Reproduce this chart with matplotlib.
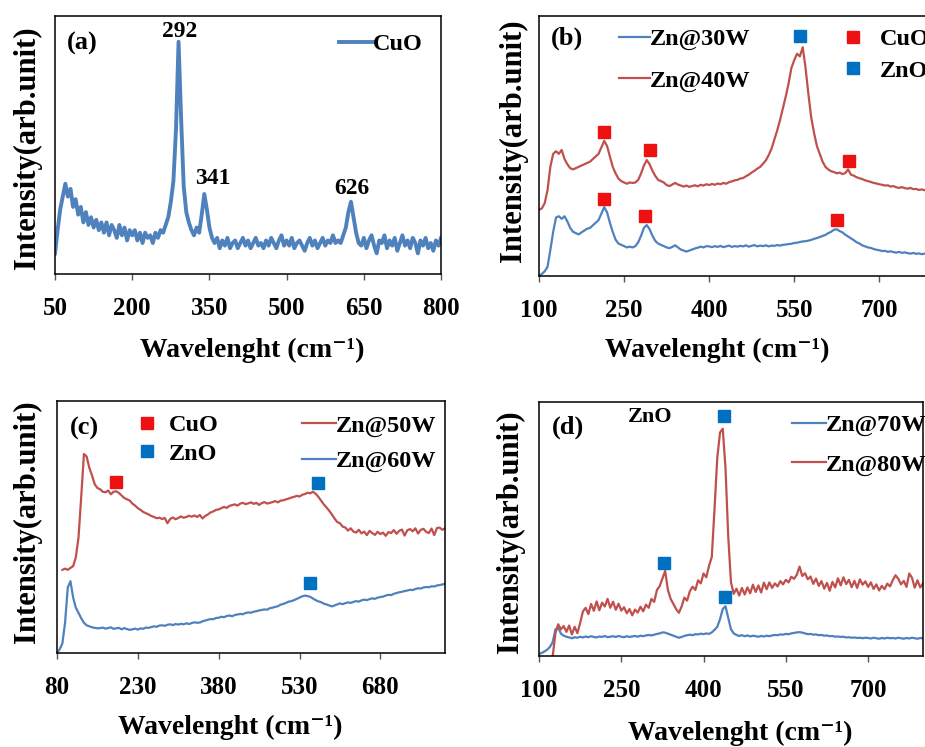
import numpy as np
import matplotlib
matplotlib.use('Agg')
import matplotlib.pyplot as plt
from matplotlib.lines import Line2D

plt.rcParams['font.family'] = ['Liberation Serif', 'DejaVu Serif']
plt.rcParams['font.weight'] = 'bold'

BLUE = '#4F81BD'
RED = '#C0504D'
SQ_RED = '#EE1111'
SQ_BLUE = '#0070C0'

# ---- data (intensity in arb. units, 0-100 of each panel height) ----
# (a) CuO
xa = np.arange(50, 801, 5)
ya = [8, 17, 25, 30, 35, 30, 33, 26, 29, 23,
      26, 20, 24, 19, 22, 18, 21, 17, 20, 16,
      20, 15, 19, 17, 14, 19, 15, 18, 13, 17,
      15, 17, 13, 16, 12, 16, 14, 15, 12, 16,
      14, 17, 16, 19, 22, 28, 36, 56, 90, 60,
      34, 24, 20, 17, 15, 18, 16, 23, 31, 25,
      18, 14, 12, 14, 10, 13, 11, 14, 10, 12,
      13, 10, 12, 14, 11, 13, 10, 12, 14, 11,
      12, 10, 13, 11, 14, 12, 10, 13, 15, 11,
      13, 11, 14, 10, 12, 13, 11, 9, 12, 14,
      11, 13, 10, 12, 14, 11, 13, 12, 15, 12,
      13, 12, 15, 18, 24, 28, 22, 16, 12, 11,
      14, 10, 13, 15, 11, 8, 13, 12, 15, 10,
      13, 11, 14, 9, 12, 15, 11, 13, 10, 14,
      12, 8, 13, 11, 14, 10, 12, 9, 13, 11,
      14]
a_peaks = [292, 341, 626]

# (b) Zn@30W / Zn@40W
xb = np.arange(100, 801, 5)
yb_40 = [25.5, 26, 28, 33, 42, 47, 48, 47, 48.5, 45,
         43, 41.5, 41, 41.5, 42, 42.5, 43, 43.5, 44, 45,
         46, 47, 49.5, 52, 50, 46, 42, 39.5, 37.5, 36.5,
         36, 35.5, 36, 35.8, 36, 37, 39.5, 42.5, 44.6, 43,
         40.5, 38.5, 37, 36.5, 36, 35, 34.6, 35.2, 35.8, 35.2,
         34.8, 34.4, 34.8, 34.3, 34.6, 34.9, 34.5, 35.1, 34.8, 35.3,
         35, 35.4, 35.1, 35.6, 35.3, 35.8, 35.5, 36.1, 36.4, 36.8,
         37, 37.5, 37.7, 38.4, 39, 39.8, 40.5, 41.3, 42, 43.2,
         44.5, 46.5, 49, 52.5, 56, 60, 64.5, 69, 74, 80,
         83, 85.5, 84.5, 88, 80, 70, 61, 55, 50, 47,
         44, 42, 41, 40.3, 40, 39.5, 39.8, 39.2, 39.6, 41,
         39, 38.6, 38, 37.6, 37.3, 36.8, 36.5, 36.2, 35.8, 35.6,
         35.3, 35.1, 34.8, 34.9, 34.4, 34.6, 34.1, 33.9, 34.2, 33.8,
         33.6, 33.9, 33.4, 33.5, 33.1, 33.3, 33, 33.2, 32.9, 33,
         32.8]
yb_30 = [0, 0.8, 1.8, 3.5, 10, 17, 22.5, 23, 22, 23,
         21, 18.5, 17, 16.5, 16, 16.8, 17.5, 18.2, 18.5, 19.5,
         20.5, 21.5, 24, 26.5, 24.5, 20.5, 17, 14, 12.5, 12,
         11.5, 11, 11.3, 11, 11.5, 13, 15.5, 18.5, 19.6, 18,
         15.5, 13.5, 12.5, 12, 11.5, 11, 10.7, 11.2, 11.8, 11,
         10.2, 9.8, 9.4, 9.8, 10.2, 10.6, 10.9, 11.3, 11, 11.5,
         11.4, 11.1, 11.5, 11.2, 11.6, 11.1, 11.4, 11.7, 11.2, 11.5,
         11.3, 11.6, 11.4, 11.8, 11.3, 11.6, 11.9, 11.4, 11.7, 11.5,
         11.8, 11.4, 11.7, 11.6, 11.9, 11.7, 12, 12.1, 12.3, 12.4,
         12.7, 12.8, 13.1, 13.3, 13.4, 13.6, 13.9, 14.3, 14.6, 15,
         15.4, 15.8, 16.5, 17, 17.8, 18, 17.3, 16.8, 15.9, 15.2,
         14.5, 13.8, 13, 12.5, 11.8, 11.4, 11, 10.8, 10.4, 10.1,
         9.9, 9.6, 9.7, 9.3, 9.5, 9.2, 9.0, 9.3, 8.9, 9.1,
         8.8, 8.6, 8.9, 8.5, 8.7, 8.4, 8.6, 8.3, 8.5, 8.2,
         8.4]
b_cuo_x = [215, 295, 647, 215, 287, 626]
b_cuo_y = [55.3, 48.5, 44.4, 29.5, 23, 21.5]
b_zno_x = [561]
b_zno_y = [92.3]

# (c) Zn@50W / Zn@60W
xc_50 = np.arange(90, 801, 5)
yc_50 = [33, 33.5, 33, 33.8, 34.5, 38, 46, 62, 79, 78,
         73.5, 70.5, 67, 65.5, 65, 64, 63.8, 64.5, 63, 64,
         64.2, 63.5, 62.5, 61.5, 61, 60.5, 59.3, 58.5, 57.5, 56.8,
         56, 55.5, 55, 54.4, 54, 53.5, 53.7, 53.2, 53.6, 51.5,
         53.2, 53.8, 53.1, 53.6, 54.2, 53.7, 54, 54.5, 54.1, 54.6,
         54, 54.8, 53.4, 54.4, 55, 55.8, 56.2, 56.8, 57, 57.5,
         58, 57.6, 58.4, 58.7, 59, 58.5, 59.3, 59.6, 59.1, 59.4,
         59.8, 59.2, 59.6, 58.8, 59.5, 59.9, 59.3, 59.6, 59.9, 60.3,
         59.8, 60.5, 60.6, 61, 61.3, 61.7, 62, 62.4, 62.1, 62.8,
         63.1, 63.6, 63.4, 64, 63.2, 62, 60.5, 59, 57.8, 56.5,
         55, 53.4, 52, 51.5, 50.2, 49.8, 48.6, 49.5, 48.2, 47.8,
         48.9, 47.5, 48.2, 46.8, 48.5, 47.6, 46.9, 48.1, 47.2, 47.8,
         46.5, 48, 47.6, 48.8, 47.3, 48.5, 49, 46.6, 48.7, 49.2,
         48.3, 49.5, 47.4, 48.9, 49.3, 48.1, 47.6, 49.4, 46.8, 49.6,
         49.8, 48.9, 49.5]
xc_60 = np.arange(80, 801, 5)
yc_60 = [0, 1.5, 3.8, 12, 26, 28.5, 22, 18, 15.9, 13.8,
         12, 11, 10.6, 10.2, 10, 9.8, 9.9, 10.1, 9.7, 9.9,
         10.2, 9.6, 9.8, 10, 9.4, 9.9, 9.5, 9.2, 9.4, 9.7,
         9.3, 9.8, 9.6, 10.1, 10, 10.3, 10.6, 10.4, 10.9, 11,
         10.8, 11.2, 11.4, 11.1, 11.5, 11.3, 11.6, 11.4, 11.8, 11.5,
         11.9, 12.2, 12, 12.1, 12.6, 12.9, 13.2, 13.5, 13.4, 13.9,
         14, 14.4, 14.2, 14.7, 14.9, 14.6, 15.1, 15.3, 15.5, 15.4,
         15.9, 16.1, 16, 16.4, 16.6, 16.9, 17.1, 17.3, 17.2, 17.8,
         18, 18.3, 18.6, 19.2, 19.5, 19.9, 20.4, 20.6, 21, 21.5,
         22, 22.5, 22.8, 22.6, 22.3, 21.6, 21, 20.5, 20.2, 19.6,
         19.3, 18.9, 18.5, 18.9, 19.3, 19.7, 19.4, 19.8, 20.1, 19.9,
         20.3, 20.6, 20.4, 20.9, 21.2, 21, 21.4, 21.7, 21.5, 22,
         22.2, 22.4, 22.8, 23.1, 23, 23.5, 23.8, 24.1, 24.3, 24.6,
         24.8, 25.1, 25, 25.4, 25.7, 25.6, 26, 26.2, 26.1, 26.5,
         26.4, 26.8, 27, 27.2, 27.5]
c_cuo_x = [189]
c_cuo_y = [68]
c_zno_x = [565, 549]
c_zno_y = [67.6, 27.7]

# (d) Zn@70W / Zn@80W
xd_80 = np.arange(120, 801, 5)
yd_80 = [-2, 0, 9, 12.5, 10.5, 11.8, 9.5, 12, 8.5, 11.5,
         9, 13, 17.5, 19, 16.5, 20.5, 17.8, 21.5, 18, 21,
         19.5, 22.5, 19, 21.4, 18.2, 20.6, 17.9, 19.2, 16.8, 18.5,
         16, 18.3, 17.1, 19.4, 17.6, 20.2, 19, 22.5, 21.3, 26,
         27.5, 30.5, 33.5, 26, 22.5, 20.5, 18.5, 17, 19.5, 23,
         21.8, 25.5, 27.3, 26, 29.8, 28.6, 32.5, 31, 35.5, 39,
         58, 78, 88, 89.5, 74, 47, 29, 24.5, 26.5, 23.8,
         26.8, 24.2, 27, 24.7, 28.1, 25.2, 27.8, 25, 28.9, 26.3,
         29, 26.8, 28.6, 27.4, 29.5, 28.2, 30, 29, 31.2, 30.4,
         32, 35.2, 31.5, 32.6, 30.2, 31.3, 28.4, 30.5, 27.6, 29.5,
         26.5, 28.8, 25.7, 29.2, 27, 30.6, 27.8, 31, 28.3, 30,
         27.1, 29.6, 26.8, 30.2, 28.1, 29.4, 27.2, 29, 26.4, 28.2,
         25.8, 27.6, 26.3, 28.5, 27.4, 29.9, 31.8, 30.4, 28.2, 29.6,
         27.2, 32.5, 30.8, 26.9, 29.8, 27, 28.6]
xd_70 = np.arange(100, 801, 5)
yd_70 = [0.8, 1.2, 1.8, 2.5, 3.6, 5.5, 10.5, 11.2, 8.8, 8,
         7.6, 7.3, 7, 7.4, 7.2, 7.6, 7.3, 7.7, 7.4, 7.8,
         7.5, 7.3, 7.7, 7.5, 7.9, 7.4, 7.6, 7.8, 7.5, 7.9,
         7.6, 7.4, 7.8, 7.5, 7.7, 7.9, 7.6, 8, 7.8, 8.1,
         8.3, 8.1, 8.4, 8.7, 8.9, 9.3, 9.2, 8.8, 8.4, 8,
         7.6, 7.2, 7.5, 7.9, 8.2, 8.4, 8.2, 8.6, 8.5, 8.8,
         8.6, 8.9, 8.7, 9.3, 10.3, 11.5, 14.5, 18.5, 19.6, 15,
         10.5, 8.9, 8.3, 7.9, 8.2, 7.8, 8.1, 7.7, 8, 7.8,
         7.6, 7.9, 7.7, 8, 7.8, 8.1, 8.3, 8.2, 8.5, 8.4,
         8.7, 8.6, 8.9, 9.1, 9.3, 9.4, 9.2, 8.9, 8.6, 8.7,
         8.4, 8.5, 8.2, 8.3, 8, 8.1, 7.8, 7.9, 7.6, 7.7,
         7.5, 7.6, 7.3, 7.4, 7.2, 7.3, 7.1, 7.2, 7, 7.2,
         7.1, 6.9, 7.2, 7, 6.8, 7.1, 6.9, 7.2, 7, 7.1,
         6.9, 7.2, 7, 6.8, 7.1, 6.9, 7.2, 7, 6.8, 7.1,
         7]
d_zno_x = [437, 328, 439]
d_zno_y = [94.5, 36.7, 23.4]

TICK_FS = 18
YLAB_FS = 22
XLAB_FS = 20
LEG_FS = 17.5
PANEL_FS = 19
XLABEL = 'Wavelenght (cm\u207b\u00b9)'

fig = plt.figure(figsize=(9.25, 7.47), dpi=100)
ax_a = fig.add_axes([0.0595, 0.6332, 0.4173, 0.3454])
ax_b = fig.add_axes([0.5827, 0.6305, 0.4292, 0.348])
ax_c = fig.add_axes([0.0616, 0.1258, 0.4195, 0.3373])
ax_d = fig.add_axes([0.5827, 0.1218, 0.4151, 0.34])


def style(ax, xlim, ticks, ylab_xy, xlab_xy):
    ax.set_xticks(ticks)
    ax.set_xlim(*xlim)
    ax.set_ylim(0, 100)
    ax.set_yticks([])
    ax.tick_params(axis='x', direction='out', length=4.5, width=1,
                   color='#555555', pad=12, labelsize=TICK_FS)
    for s in ax.spines.values():
        s.set_color('black')
        s.set_linewidth(1.1)
    ax.set_ylabel('Intensity(arb.unit)', fontsize=YLAB_FS, fontweight='bold', va='center')
    ax.yaxis.set_label_coords(*ylab_xy)
    ax.set_xlabel(XLABEL, fontsize=XLAB_FS, fontweight='bold', va='center')
    ax.xaxis.set_label_coords(*xlab_xy)


# (a)
ax_a.plot(xa, ya, color=BLUE, lw=2.8, label='CuO')
style(ax_a, (50, 800), [50, 200, 350, 500, 650, 800], (-0.072, 0.49), (0.51, -0.295))
ax_a.text(0.07, 0.895, '(a)', transform=ax_a.transAxes, fontsize=PANEL_FS, ha='center', va='center')
ax_a.text(a_peaks[0], 94, str(a_peaks[0]), fontsize=17, ha='center', va='center')
ax_a.text(a_peaks[1] + 16, 37, str(a_peaks[1]), fontsize=17, ha='center', va='center')
ax_a.text(a_peaks[2], 33, str(a_peaks[2]), fontsize=17, ha='center', va='center')
ax_a.legend(loc='upper right', bbox_to_anchor=(0.985, 0.98), frameon=False, fontsize=LEG_FS,
            handlelength=1.4, handletextpad=0.0, borderpad=0)

# (b)
l30, = ax_b.plot(xb, yb_30, color=BLUE, lw=1.6, label='Zn@30W')
l40, = ax_b.plot(xb, yb_40, color=RED, lw=1.6, label='Zn@40W')
ax_b.plot(b_cuo_x, b_cuo_y, 's', color=SQ_RED, ms=9, ls='none')
ax_b.plot(b_zno_x, b_zno_y, 's', color=SQ_BLUE, ms=9, ls='none')
style(ax_b, (100, 800), [100, 250, 400, 550, 700, 850], (-0.065, 0.52), (0.448, -0.285))
ax_b.text(0.07, 0.915, '(b)', transform=ax_b.transAxes, fontsize=PANEL_FS, ha='center', va='center')
leg1 = ax_b.legend(handles=[l30, l40], loc='upper left', bbox_to_anchor=(0.17, 1.0),
                   frameon=False, fontsize=LEG_FS, handlelength=1.3, handletextpad=0.0,
                   borderpad=0, labelspacing=0.8)
ax_b.add_artist(leg1)
sq = [Line2D([], [], marker='s', color=SQ_RED, ms=9, ls='none', label='CuO'),
      Line2D([], [], marker='s', color=SQ_BLUE, ms=9, ls='none', label='ZnO')]
ax_b.legend(handles=sq, loc='upper left', bbox_to_anchor=(0.735, 1.0), frameon=False,
            fontsize=LEG_FS, handlelength=0.8, handletextpad=0.7, borderpad=0, labelspacing=0.4)

# (c)
l50, = ax_c.plot(xc_50, yc_50, color=RED, lw=1.6, label='Zn@50W')
l60, = ax_c.plot(xc_60, yc_60, color=BLUE, lw=1.6, label='Zn@60W')
ax_c.plot(c_cuo_x, c_cuo_y, 's', color=SQ_RED, ms=9, ls='none')
ax_c.plot(c_zno_x, c_zno_y, 's', color=SQ_BLUE, ms=9, ls='none')
style(ax_c, (80, 800), [80, 230, 380, 530, 680], (-0.077, 0.52), (0.446, -0.294))
ax_c.text(0.07, 0.89, '(c)', transform=ax_c.transAxes, fontsize=PANEL_FS, ha='center', va='center')
leg1 = ax_c.legend(handles=[l50, l60], loc='upper right', bbox_to_anchor=(1.01, 0.995),
                   frameon=False, fontsize=LEG_FS, handlelength=1.4, handletextpad=0.0,
                   borderpad=0, labelspacing=0.55)
ax_c.add_artist(leg1)
sq = [Line2D([], [], marker='s', color=SQ_RED, ms=9, ls='none', label='CuO'),
      Line2D([], [], marker='s', color=SQ_BLUE, ms=9, ls='none', label='ZnO')]
ax_c.legend(handles=sq, loc='upper left', bbox_to_anchor=(0.175, 0.995), frameon=False,
            fontsize=LEG_FS, handlelength=0.8, handletextpad=0.5, borderpad=0, labelspacing=0.25)

# (d)
l70, = ax_d.plot(xd_70, yd_70, color=BLUE, lw=1.6, label='Zn@70W')
l80, = ax_d.plot(xd_80, yd_80, color=RED, lw=1.6, label='Zn@80W')
ax_d.plot(d_zno_x, d_zno_y, 's', color=SQ_BLUE, ms=9, ls='none')
style(ax_d, (100, 800), [100, 250, 400, 550, 700], (-0.075, 0.49), (0.523, -0.303))
ax_d.text(0.075, 0.9, '(d)', transform=ax_d.transAxes, fontsize=PANEL_FS, ha='center', va='center')
ax_d.text(0.29, 0.94, 'ZnO', transform=ax_d.transAxes, fontsize=16, ha='center', va='center')
ax_d.legend(handles=[l70, l80], loc='upper right', bbox_to_anchor=(1.04, 1.0),
            frameon=False, fontsize=LEG_FS, handlelength=1.4, handletextpad=0.0,
            borderpad=0, labelspacing=0.7)

fig.savefig('out.png', dpi=100)
